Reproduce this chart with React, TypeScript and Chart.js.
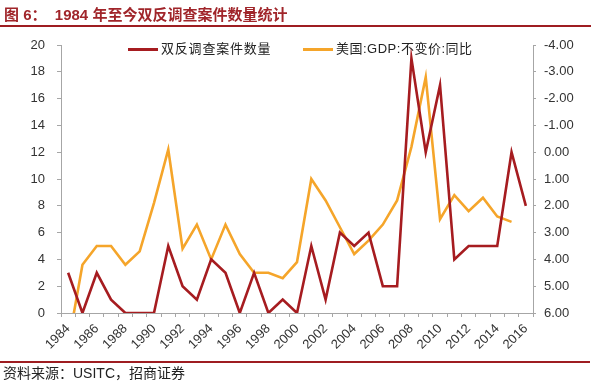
import React, { useEffect, useRef } from "react";
import { Chart, registerables } from "chart.js";

Chart.register(...registerables);

const years = [
  "1984", "1985", "1986", "1987", "1988", "1989", "1990", "1991", "1992", "1993", "1994",
  "1995", "1996", "1997", "1998", "1999", "2000", "2001", "2002", "2003", "2004", "2005",
  "2006", "2007", "2008", "2009", "2010", "2011", "2012", "2013", "2014", "2015", "2016",
];

const caseCounts = [
  3, 0, 3, 1, 0, 0, 0, 5, 2, 1, 4, 3, 0, 3, 0, 1, 0, 5, 1, 6, 5, 6, 2, 2, 19, 12, 17, 4, 5, 5, 5, 12, 8,
];

const usGdpYoY = [
  7.2, 4.2, 3.5, 3.5, 4.2, 3.7, 1.9, -0.1, 3.6, 2.7, 4.0, 2.7, 3.8, 4.5, 4.5, 4.7, 4.1, 1.0, 1.8,
  2.8, 3.8, 3.3, 2.7, 1.8, -0.2, -2.8, 2.5, 1.6, 2.2, 1.7, 2.4, 2.6, null,
];

const seriesNames = ["双反调查案件数量", "美国:GDP:不变价:同比"];
const titleText = "图 6：  1984 年至今双反调查案件数量统计";
const sourceText = "资料来源：USITC，招商证券";

const RED = "#A61C20";
const ORANGE = "#F5A52A";
const AXIS = "#A6A6A6";
const TICK_FONT = { family: '"Liberation Sans", Arial, sans-serif', size: 13 };

export default function App() {
  const ref = useRef<HTMLCanvasElement | null>(null);

  useEffect(() => {
    if (!ref.current) return;
    const chart = new Chart(ref.current, {
      type: "line",
      data: {
        labels: years,
        datasets: [
          {
            label: seriesNames[0],
            data: caseCounts,
            yAxisID: "y",
            borderColor: RED,
            backgroundColor: RED,
            borderWidth: 2.6,
            pointRadius: 0,
            tension: 0,
          },
          {
            label: seriesNames[1],
            data: usGdpYoY,
            yAxisID: "y1",
            borderColor: ORANGE,
            backgroundColor: ORANGE,
            borderWidth: 2.6,
            pointRadius: 0,
            tension: 0,
          },
        ],
      },
      options: {
        responsive: false,
        animation: false,
        devicePixelRatio: 1,
        layout: { padding: { top: 45, left: 0, right: 0, bottom: 0 } },
        plugins: { legend: { display: false }, title: { display: false }, tooltip: { enabled: false } },
        scales: {
          x: {
            type: "category",
            offset: true,
            grid: { display: true, drawOnChartArea: false, drawTicks: true, tickLength: 4, offset: true, color: AXIS },
            border: { color: AXIS, width: 1 },
            ticks: {
              autoSkip: false,
              maxRotation: 45,
              minRotation: 45,
              padding: 4,
              color: "#333",
              font: TICK_FONT,
              callback: (_v: any, i: number) => (i % 2 === 0 ? years[i] : ""),
            },
            afterFit: (s: any) => {
              s.height = 71;
            },
          },
          y: {
            position: "left",
            min: 0,
            max: 20,
            grid: { drawOnChartArea: false, drawTicks: true, tickLength: 4, color: AXIS },
            border: { color: AXIS, width: 1 },
            ticks: { stepSize: 2, padding: 12, color: "#333", font: TICK_FONT },
            afterFit: (s: any) => {
              s.width = 61;
            },
          },
          y1: {
            position: "right",
            min: -4,
            max: 6,
            reverse: true,
            grid: { drawOnChartArea: false, drawTicks: true, tickLength: 3, color: AXIS },
            border: { color: AXIS, width: 1 },
            ticks: {
              stepSize: 1,
              padding: 8,
              color: "#333",
              font: TICK_FONT,
              callback: (v: any) => Number(v).toFixed(2),
            },
            afterFit: (s: any) => {
              s.width = 67;
            },
          },
        },
      },
    });
    return () => chart.destroy();
  }, []);

  const cjk = '"Liberation Sans", "Noto Sans CJK SC", sans-serif';

  return (
    <div style={{ position: "fixed", left: 0, top: 0, width: 600, height: 384, background: "#fff", overflow: "hidden" }}>
      <canvas ref={ref} width={600} height={384} style={{ position: "absolute", left: 0, top: 0, width: 600, height: 384 }} />
      <div
        style={{
          position: "absolute",
          left: 4,
          top: 6,
          font: `bold 15px ${cjk}`,
          lineHeight: "18px",
          color: "#A0252A",
          whiteSpace: "pre",
        }}
      >
        {titleText}
      </div>
      <div style={{ position: "absolute", left: 0, top: 25, width: 591, height: 2, background: "#9E1D21" }} />
      <div style={{ position: "absolute", left: 128, top: 48, width: 30, height: 3, background: RED }} />
      <div
        style={{ position: "absolute", left: 161, top: 40, font: `13px ${cjk}`, lineHeight: "18px", color: "#222", whiteSpace: "pre", letterSpacing: "0.8px" }}
      >
        {seriesNames[0]}
      </div>
      <div style={{ position: "absolute", left: 303, top: 48, width: 30, height: 3, background: ORANGE }} />
      <div
        style={{ position: "absolute", left: 336, top: 40, font: `13px ${cjk}`, lineHeight: "18px", color: "#222", whiteSpace: "pre", letterSpacing: "0.5px" }}
      >
        {seriesNames[1]}
      </div>
      <div style={{ position: "absolute", left: 0, top: 361, width: 590, height: 2, background: "#9E1D21" }} />
      <div
        style={{ position: "absolute", left: 3, top: 364, font: `14px ${cjk}`, lineHeight: "18px", color: "#222", whiteSpace: "pre" }}
      >
        {sourceText}
      </div>
    </div>
  );
}
